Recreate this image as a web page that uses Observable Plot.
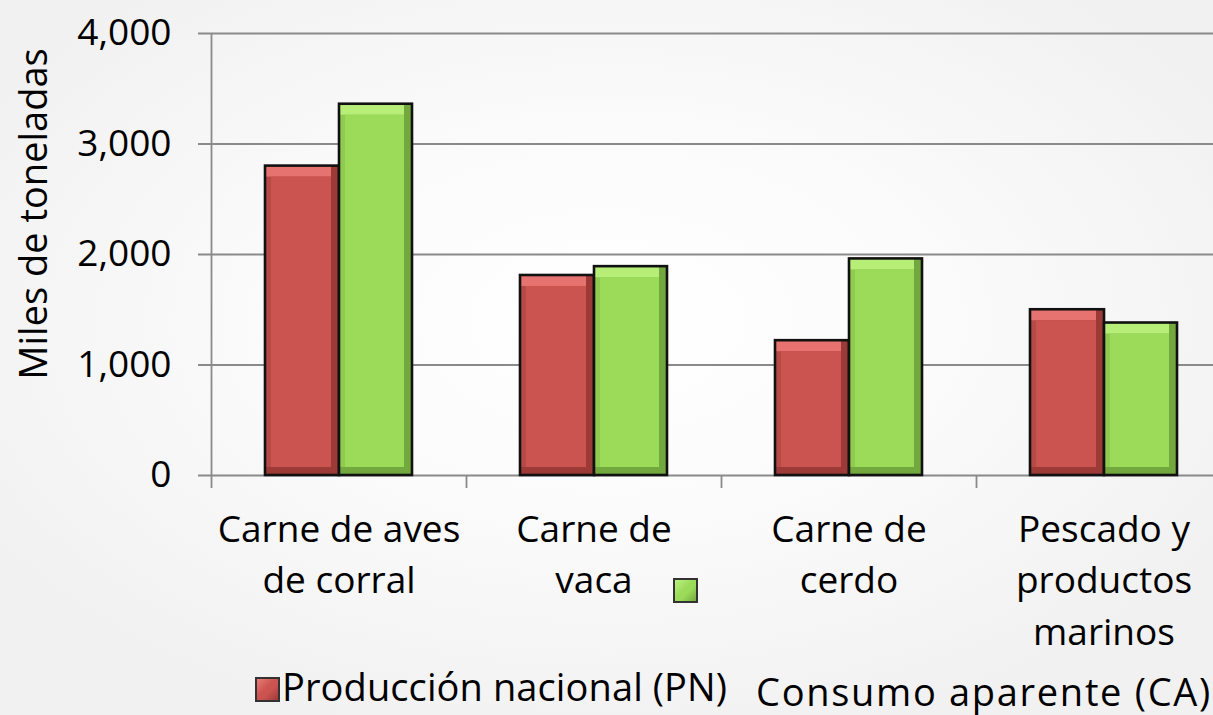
<!DOCTYPE html>
<html>
<head>
<meta charset="utf-8">
<script src="https://cdn.jsdelivr.net/npm/d3@7"></script>
<script src="https://cdn.jsdelivr.net/npm/@observablehq/plot@0.6"></script>
<style>
  html, body { margin: 0; padding: 0; overflow: hidden; }
  body {
    width: 1213px; height: 715px;
    background: radial-gradient(ellipse 60% 60% at 50% 45%, #ffffff 0%, #fbfbfb 45%, #f1f1f1 100%);
    font-family: "Open Sans", sans-serif;
    color: #000;
  }
  #wrap { position: relative; width: 1213px; height: 715px; }
  #wrap svg { position: absolute; left: 0; top: 0; background: transparent; }
  .ylabel {
    position: absolute; left: 32px; top: 214px;
    transform: translate(-50%, -50%) rotate(-90deg);
    font-size: 38px; line-height: 38px; white-space: nowrap;
  }
  .leg { position: absolute; font-size: 38px; line-height: 38px; white-space: nowrap; }
  .sw { position: absolute; box-sizing: border-box; border: 2px solid #333; }
</style>
</head>
<body>
<div id="wrap"></div>
<script>
// ---- data ----
const categories = ["Carne de aves\nde corral", "Carne de\nvaca", "Carne de\ncerdo", "Pescado y\nproductos\nmarinos"];
const produccionNacional = [2800, 1810, 1220, 1500];
const consumoAparente = [3360, 1890, 1960, 1380];
const seriesNames = ["Producción nacional (PN)", "Consumo aparente (CA)"];
const yTicks = [0, 1000, 2000, 3000, 4000];
const yLabel = "Miles de toneladas";

// ---- table built from arrays ----
const pnRows = categories.map((c, i) => ({i, cat: c, value: produccionNacional[i], series: seriesNames[0]}));
const caRows = categories.map((c, i) => ({i, cat: c, value: consumoAparente[i], series: seriesNames[1]}));

const gridColor = "#8a8a8a";

function beveledBars(rows, inL, inR, c) {
  const base = {x1: "i", x2: d => d.i + 1, y1: 0, y2: "value"};
  const e = 8;
  return [
    Plot.rectY(rows, {...base, fill: c.dark, insetLeft: inL, insetRight: inR}),
    Plot.rectY(rows, {...base, fill: c.light, insetLeft: inL, insetRight: inR + e, insetBottom: e}),
    Plot.rectY(rows, {...base, fill: c.left, insetLeft: inL, insetRight: inR + e, insetTop: 11, insetBottom: e}),
    Plot.rectY(rows, {...base, fill: c.face, insetLeft: inL + 6, insetRight: inR + e, insetTop: 11, insetBottom: e}),
    Plot.rectY(rows, {...base, fill: "none", stroke: "#111", strokeWidth: 2.6, insetLeft: inL, insetRight: inR})
  ];
}

const red = {dark: "#9c3a38", left: "#b64a47", light: "#e6736f", face: "#cb5350"};
const green = {dark: "#73a83f", left: "#8fcb50", light: "#b6ee78", face: "#9cdb5a"};

const chart = Plot.plot({
  width: 1213,
  height: 715,
  marginTop: 33,
  marginBottom: 240,
  marginLeft: 211,
  marginRight: 0,
  style: {background: "transparent", color: "#000", fontFamily: "Open Sans, sans-serif", overflow: "hidden"},
  x: {type: "linear", domain: [0, 4], range: [211, 1231]},
  y: {domain: [0, 4000], range: [475, 33]},
  marks: [
    Plot.gridY(yTicks, {stroke: gridColor, strokeOpacity: 1, strokeWidth: 1.8, insetLeft: -13}),
    Plot.ruleX([0], {y1: 4000, y2: 0, stroke: gridColor, strokeWidth: 1.8, insetBottom: -13}),
    Plot.ruleX([1, 2, 3, 4], {y1: 0, y2: 0, stroke: gridColor, strokeWidth: 1.8, insetBottom: -13}),
    ...beveledBars(pnRows, 54, 127, red),
    ...beveledBars(caRows, 128, 54, green),
    Plot.axisY({ticks: yTicks, tickFormat: d3.format(","), tickSize: 0, tickPadding: 40, fontSize: 37, label: null}),
    Plot.axisX({ticks: [0.5, 1.5, 2.5, 3.5], tickFormat: d => categories[Math.floor(d)], tickSize: 0, tickPadding: 30, fontSize: 37, lineHeight: 1.39, label: null})
  ]
});

const wrap = document.getElementById("wrap");
wrap.appendChild(chart);

const yl = document.createElement("div");
yl.className = "ylabel";
yl.textContent = yLabel;
wrap.appendChild(yl);

function swatch(left, top, grad) {
  const s = document.createElement("div");
  s.className = "sw";
  s.style.left = left + "px"; s.style.top = top + "px";
  s.style.width = "25px"; s.style.height = "25px";
  s.style.background = grad;
  wrap.appendChild(s);
}
function legText(left, top, txt, ls) {
  const t = document.createElement("div");
  t.className = "leg";
  t.style.left = left + "px"; t.style.top = top + "px";
  t.style.letterSpacing = ls + "px";
  t.textContent = txt;
  wrap.appendChild(t);
}
swatch(255, 677, "linear-gradient(135deg, #ea7b77 0%, #cb5350 45%, #cb5350 60%, #9c3a38 100%)");
legText(282, 667, seriesNames[0], 0.1);
swatch(673, 578, "linear-gradient(135deg, #bdf27f 0%, #9cdb5a 45%, #9cdb5a 60%, #73a83f 100%)");
legText(756, 672, seriesNames[1], 1.7);
</script>
</body>
</html>
